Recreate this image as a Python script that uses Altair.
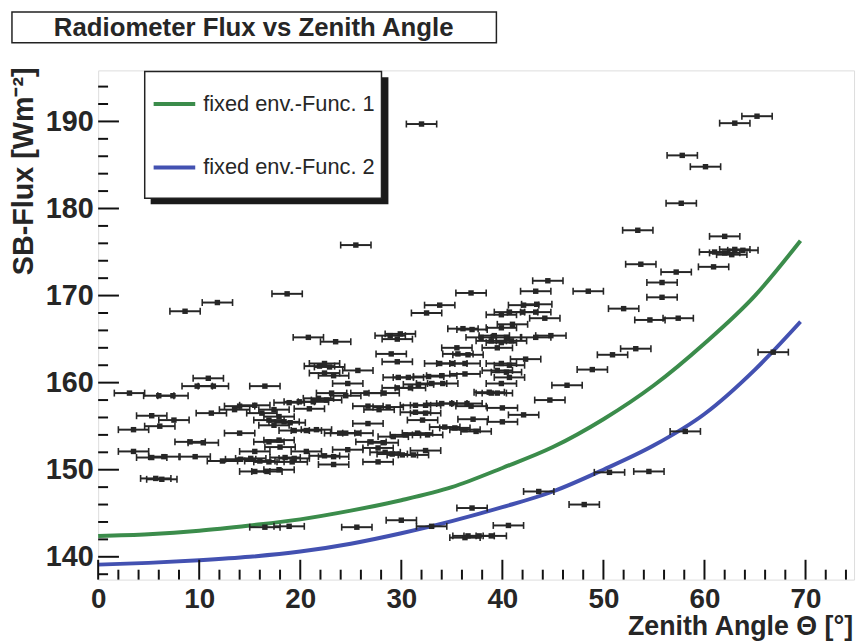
import altair as alt
import pandas as pd

# ---------------- data ----------------
THETA = [32.0, 65.2, 63.0, 57.8, 60.1, 57.7, 53.4, 62.0, 61.0, 62.0, 62.7, 63.0, 63.8, 53.7, 60.9, 57.2,
         55.8, 44.5, 43.3, 48.5, 55.8, 52.0, 54.6, 57.4, 53.2, 44.8, 44.2, 50.9, 48.9, 46.4, 44.7, 66.8,
         58.1, 50.6, 54.5, 48.1, 37.0, 30.0, 25.6, 33.0, 40.6, 43.6, 36.6, 37.7, 38.9, 36.3, 16.5, 18.9,
         8.6, 11.8, 18.7, 20.8, 23.5, 22.4, 21.9, 22.9, 22.4, 23.3, 10.9, 9.8, 11.4, 16.5, 3.1, 6.0,
         7.4, 5.3, 7.5, 6.1, 3.5, 11.2, 14.0, 15.5, 13.5, 14.0, 3.5, 6.5, 5.3, 9.6, 9.1, 10.4,
         6.3, 5.7, 12.3, 14.1, 15.1, 16.0, 16.9, 15.5, 16.7, 17.9, 18.5, 19.4, 18.0, 17.9, 16.9, 15.5,
         16.9, 17.9, 18.4, 19.0, 17.4, 16.2, 17.4, 18.9, 19.9, 21.3, 22.6, 19.4, 20.6, 21.6, 20.6, 23.3,
         23.3, 24.7, 22.4, 23.9, 20.9, 21.8, 19.2, 25.5, 36.9, 33.8, 32.5, 42.1, 43.4, 40.7, 42.0, 43.3,
         39.9, 29.9, 28.9, 29.6, 36.1, 37.0, 41.0, 39.9, 37.9, 39.2, 40.4, 38.9, 39.9, 40.9, 39.5, 43.3,
         35.5, 35.6, 36.6, 29.0, 29.6, 42.3, 39.9, 40.7, 35.0, 36.3, 33.8, 25.7, 39.5, 40.4, 40.7, 36.3,
         34.0, 32.7, 30.7, 29.7, 24.7, 33.0, 31.7, 34.1, 39.9, 30.9, 29.6, 38.7, 39.5, 28.3, 23.1, 24.5,
         26.5, 26.7, 28.7, 27.8, 31.4, 32.4, 34.0, 35.0, 36.5, 36.9, 40.0, 42.1, 31.4, 32.4, 32.1, 37.1,
         40.0, 34.3, 35.3, 36.3, 37.4, 26.7, 24.5, 25.7, 29.2, 30.4, 31.6, 32.6, 27.0, 28.2, 27.7, 28.4,
         29.1, 30.1, 31.2, 32.4, 27.7, 38.9]
FLUX = [189.7, 190.6, 189.8, 186.1, 184.8, 180.6, 177.5, 176.8, 175.0, 174.9, 174.7, 175.3, 175.2, 173.6, 173.3, 172.7,
        171.5, 171.7, 170.5, 170.5, 169.8, 168.5, 167.2, 167.4, 163.9, 165.4, 167.4, 163.2, 161.5, 159.7, 158.0, 163.5,
        154.4, 149.7, 149.8, 146.0, 145.6, 144.2, 143.4, 143.5, 143.6, 147.5, 142.4, 142.4, 142.4, 142.2, 143.4, 143.5,
        168.2, 169.2, 170.2, 165.2, 164.7, 162.2, 161.9, 161.8, 161.1, 160.8, 160.5, 159.6, 159.6, 159.6, 158.8, 158.5,
        158.5, 156.2, 155.7, 155.0, 154.6, 156.5, 157.3, 157.4, 156.9, 154.2, 152.1, 151.5, 151.4, 151.5, 153.2, 153.1,
        148.9, 149.0, 151.0, 151.2, 151.3, 151.0, 150.9, 149.8, 149.8, 150.0, 151.4, 151.3, 152.6, 153.4, 153.2, 152.1,
        155.7, 156.1, 155.5, 155.4, 155.1, 156.5, 156.9, 157.7, 157.8, 157.8, 158.0, 154.5, 154.5, 154.6, 152.1, 151.5,
        150.6, 152.3, 151.6, 154.2, 157.0, 158.2, 150.9, 175.8, 170.3, 168.9, 168.0, 168.9, 169.0, 168.1, 168.1, 168.1,
        167.8, 165.6, 165.4, 165.0, 166.2, 166.1, 166.7, 166.3, 165.2, 165.4, 165.2, 164.8, 164.6, 164.8, 164.0, 165.2,
        164.0, 163.3, 163.2, 163.3, 162.4, 162.7, 162.2, 162.0, 162.2, 162.2, 162.2, 161.4, 161.4, 161.2, 160.6, 161.0,
        160.8, 160.7, 160.6, 160.6, 159.9, 159.9, 159.8, 159.9, 159.9, 159.4, 159.4, 158.9, 158.8, 158.8, 158.8, 158.5,
        158.8, 157.3, 157.2, 156.9, 157.4, 157.4, 157.6, 157.6, 157.6, 157.3, 157.1, 156.3, 156.6, 156.5, 155.7, 155.8,
        155.5, 154.9, 154.8, 154.6, 154.4, 155.3, 154.2, 154.2, 153.8, 154.0, 154.2, 154.0, 153.2, 153.1, 152.5, 152.0,
        151.8, 151.7, 151.7, 152.2, 150.9, 158.8]
THETA_ERR = 1.5

CURVE_THETA = [0, 5, 10, 15, 20, 25, 30, 35, 40, 45, 50, 55, 60, 65, 69.5]
FUNC1 = [142.4, 142.6, 143.0, 143.6, 144.3, 145.3, 146.5, 148.0, 150.2, 152.6, 155.8, 159.7, 164.5, 170.0, 176.3]
FUNC2 = [139.1, 139.3, 139.6, 140.0, 140.6, 141.5, 142.7, 144.1, 145.7, 147.5, 150.0, 152.8, 156.4, 161.5, 167.0]
FUNC_NAMES = ["fixed env.-Func. 1", "fixed env.-Func. 2"]
FUNC_COLORS = ["#3b8c4b", "#4351b1"]

X_MAJOR = [0.0, 10.0, 20.0, 30.0, 40.0, 50.0, 60.0, 70.0]
X_MINOR = [2.0, 4.0, 6.0, 8.0, 12.0, 14.0, 16.0, 18.0, 22.0, 24.0, 26.0, 28.0, 32.0, 34.0, 36.0, 38.0,
           42.0, 44.0, 46.0, 48.0, 52.0, 54.0, 56.0, 58.0, 62.0, 64.0, 66.0, 68.0, 72.0, 74.0]
Y_MAJOR = [140.0, 150.0, 160.0, 170.0, 180.0, 190.0]
Y_MINOR = [138.0, 142.0, 144.0, 146.0, 148.0, 152.0, 154.0, 156.0, 158.0, 162.0, 164.0, 166.0, 168.0,
           172.0, 174.0, 176.0, 178.0, 182.0, 184.0, 186.0, 188.0, 192.0, 194.0]

TITLE = "Radiometer Flux vs Zenith Angle"
X_TITLE = "Zenith Angle \u0398 [\u00b0]"
Y_TITLE = "SB-Flux [Wm\u207b\u00b2]"

# ---------------- chart ----------------
W, H = 763, 514
X_DOM = [0.0, 74.8]
Y_DOM = [137.38, 195.86]
FONT = "Liberation Sans, Arial, Helvetica, sans-serif"
INK = "#262626"
TICK_C = "#111111"

xs = alt.Scale(domain=X_DOM, nice=False, zero=False)
ys = alt.Scale(domain=Y_DOM, nice=False, zero=False)

AX_X = alt.Axis(orient="bottom", values=X_MAJOR, ticks=False, domain=False, grid=False,
                labelFont=FONT, labelFontSize=28, labelFontWeight="bold", labelColor=INK,
                labelPadding=6, labelFlush=False, labelOverlap=False, title=None, format="d")
AX_Y = alt.Axis(orient="left", values=Y_MAJOR, ticks=False, domain=False, grid=False,
                labelFont=FONT, labelFontSize=29, labelFontWeight="bold", labelColor=INK,
                labelPadding=5, labelOverlap=False, title=None, format="d")

pts = pd.DataFrame({"theta": THETA, "flux": FLUX})
curves = pd.DataFrame({
    "theta": CURVE_THETA * 2,
    "flux": FUNC1 + FUNC2,
    "func": [FUNC_NAMES[0]] * len(CURVE_THETA) + [FUNC_NAMES[1]] * len(CURVE_THETA),
})
one = pd.DataFrame({"a": [0]})

# inward ROOT-style tick marks, tick lengths converted from pixels to data units
px_per_x = W / (X_DOM[1] - X_DOM[0])
px_per_y = H / (Y_DOM[1] - Y_DOM[0])
xt = pd.DataFrame({"theta": X_MAJOR + X_MINOR,
                   "flux": [Y_DOM[0]] * (len(X_MAJOR) + len(X_MINOR)),
                   "flux2": [Y_DOM[0] + 20.0 / px_per_y] * len(X_MAJOR)
                            + [Y_DOM[0] + 10.0 / px_per_y] * len(X_MINOR)})
yt = pd.DataFrame({"flux": Y_MAJOR + Y_MINOR,
                   "theta": [X_DOM[0]] * (len(Y_MAJOR) + len(Y_MINOR)),
                   "theta2": [X_DOM[0] + 21.0 / px_per_x] * len(Y_MAJOR)
                             + [X_DOM[0] + 10.0 / px_per_x] * len(Y_MINOR)})

xticks = alt.Chart(xt).mark_rule(color=TICK_C, strokeWidth=2).encode(
    x=alt.X("theta:Q", scale=xs, axis=AX_X),
    y=alt.Y("flux:Q", scale=ys, axis=AX_Y), y2="flux2:Q")
yticks = alt.Chart(yt).mark_rule(color=TICK_C, strokeWidth=2).encode(
    x=alt.X("theta:Q", scale=xs, axis=AX_X), x2="theta2:Q",
    y=alt.Y("flux:Q", scale=ys, axis=AX_Y))

base_pts = alt.Chart(pts).transform_calculate(
    lo=f"datum.theta - {THETA_ERR}", hi=f"datum.theta + {THETA_ERR}")

bars = base_pts.mark_rule(color=INK, strokeWidth=2).encode(
    x=alt.X("lo:Q", scale=xs, axis=AX_X), x2="hi:Q",
    y=alt.Y("flux:Q", scale=ys, axis=AX_Y))
cap_lo = base_pts.mark_tick(color=INK, orient="vertical", size=7, thickness=1.6, opacity=1).encode(
    x=alt.X("lo:Q", scale=xs, axis=AX_X),
    y=alt.Y("flux:Q", scale=ys, axis=AX_Y))
cap_hi = base_pts.mark_tick(color=INK, orient="vertical", size=7, thickness=1.6, opacity=1).encode(
    x=alt.X("hi:Q", scale=xs, axis=AX_X),
    y=alt.Y("flux:Q", scale=ys, axis=AX_Y))
marks = base_pts.mark_square(color=INK, size=30, opacity=1).encode(
    x=alt.X("theta:Q", scale=xs, axis=AX_X),
    y=alt.Y("flux:Q", scale=ys, axis=AX_Y))

lines = alt.Chart(curves).mark_line(strokeWidth=4, interpolate="monotone").encode(
    x=alt.X("theta:Q", scale=xs, axis=AX_X),
    y=alt.Y("flux:Q", scale=ys, axis=AX_Y),
    color=alt.Color("func:N", scale=alt.Scale(domain=FUNC_NAMES, range=FUNC_COLORS), legend=None),
    detail="func:N")

# title box
tbox = alt.Chart(one).mark_rect(fill="white", stroke="#222", strokeWidth=1.5).encode(
    x=alt.value(-87), x2=alt.value(402), y=alt.value(-59), y2=alt.value(-28))
ttext = alt.Chart(one).mark_text(font=FONT, fontSize=26, fontWeight="bold", color=INK,
                                 align="center", baseline="middle").encode(
    x=alt.value(157), y=alt.value(-43), text=alt.value(TITLE))

# legend box with shadow
lshadow = alt.Chart(one).mark_rect(fill="#1a1a1a").encode(
    x=alt.value(53), x2=alt.value(293), y=alt.value(7), y2=alt.value(135))
lbox = alt.Chart(one).mark_rect(fill="white", stroke="#222", strokeWidth=1.5).encode(
    x=alt.value(47), x2=alt.value(286), y=alt.value(1), y2=alt.value(129))
leg_layers = []
for name, col, yy in zip(FUNC_NAMES, FUNC_COLORS, [34, 98]):
    leg_layers.append(alt.Chart(one).mark_rule(color=col, strokeWidth=4).encode(
        x=alt.value(56), x2=alt.value(98), y=alt.value(yy)))
    leg_layers.append(alt.Chart(one).mark_text(font=FONT, fontSize=22, color=INK,
                                               align="left", baseline="middle").encode(
        x=alt.value(106), y=alt.value(yy), text=alt.value(name)))

# axis titles
xtitle = alt.Chart(one).mark_text(font=FONT, fontSize=27, fontWeight="bold", color=INK,
                                  align="right", baseline="middle").encode(
    x=alt.value(W - 1), y=alt.value(562), text=alt.value(X_TITLE))
ytitle = alt.Chart(one).mark_text(font=FONT, fontSize=29, fontWeight="bold", color=INK,
                                  align="right", baseline="middle", angle=270).encode(
    x=alt.value(-75), y=alt.value(-3), text=alt.value(Y_TITLE))

chart = alt.layer(
    lines, bars, cap_lo, cap_hi, marks, xticks, yticks,
    lshadow, lbox, *leg_layers, tbox, ttext, xtitle, ytitle
).properties(
    width=W, height=H,
    autosize=alt.AutoSizeParams(type="none"),
    padding={"left": 91, "top": 60, "right": 4, "bottom": 61},
).configure_view(
    stroke="#111", strokeWidth=2
).configure(background="white")

chart.save("out.html", embed_options={"renderer": "svg", "actions": False})
